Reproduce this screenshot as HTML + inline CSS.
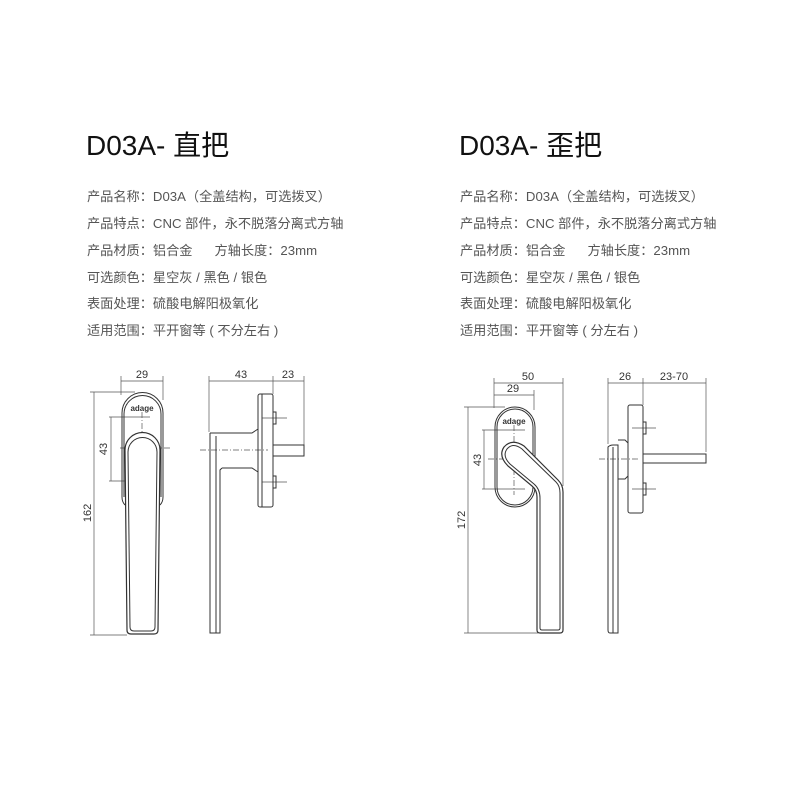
<!DOCTYPE html>
<html><head><meta charset="utf-8"><style>
body{margin:0;background:#fff;width:800px;height:800px;overflow:hidden;position:relative;font-family:"Liberation Sans","Noto Sans CJK SC",sans-serif}
.t{position:absolute;font-size:28px;color:#111;line-height:1}
.l{position:absolute;font-size:13.2px;color:#555;line-height:1;white-space:pre}
svg{position:absolute;left:0;top:0}
</style></head><body>
<div class="t" style="left:86px;top:132px">D03A- 直把</div>
<div class="t" style="left:459px;top:132px">D03A- 歪把</div>
<div class="l" style="left:87px;top:190px">产品名称：D03A（全盖结构，可选拨叉）</div>
<div class="l" style="left:87px;top:217px">产品特点：CNC 部件，永不脱落分离式方轴</div>
<div class="l" style="left:87px;top:244px">产品材质：铝合金      方轴长度：23mm</div>
<div class="l" style="left:87px;top:271px">可选颜色：星空灰 / 黑色 / 银色</div>
<div class="l" style="left:87px;top:297px">表面处理：硫酸电解阳极氧化</div>
<div class="l" style="left:87px;top:324px">适用范围：平开窗等 ( 不分左右 )</div>
<div class="l" style="left:460px;top:190px">产品名称：D03A（全盖结构，可选拨叉）</div>
<div class="l" style="left:460px;top:217px">产品特点：CNC 部件，永不脱落分离式方轴</div>
<div class="l" style="left:460px;top:244px">产品材质：铝合金      方轴长度：23mm</div>
<div class="l" style="left:460px;top:271px">可选颜色：星空灰 / 黑色 / 银色</div>
<div class="l" style="left:460px;top:297px">表面处理：硫酸电解阳极氧化</div>
<div class="l" style="left:460px;top:324px">适用范围：平开窗等 ( 分左右 )</div>
<svg width="800" height="800" font-family="Liberation Sans,sans-serif" font-size="11" fill="none" stroke="#333" stroke-width="1">
<!-- LEFT front -->
<g stroke-width="0.7" stroke="#555">
<line x1="121" y1="381" x2="163" y2="381"/><line x1="121" y1="376" x2="121" y2="395"/><line x1="163" y1="376" x2="163" y2="400"/>
<line x1="94" y1="392" x2="94" y2="635"/><line x1="90" y1="392" x2="135" y2="392"/><line x1="90" y1="635" x2="127" y2="635"/>
<line x1="111" y1="417" x2="111" y2="481"/><line x1="109" y1="417" x2="150" y2="417"/><line x1="109" y1="481" x2="150" y2="481"/>
<line x1="142" y1="412" x2="142" y2="486" stroke-dasharray="6,2,1,2"/><line x1="120" y1="448" x2="172" y2="448" stroke-dasharray="6,2,1,2"/>
</g>
<path d="M122 497 V413 A20.5 20.5 0 0 1 163 413 V497 Q163 502 160 505 M122 497 Q122 502 125 505"/>
<path d="M124 497 V414 A18.5 18.5 0 0 1 161 414 V497"/>
<path d="M125 450 A17.5 17.5 0 0 1 160 450 L158 630 Q158 634 154 634 H131 Q127 634 127 630 Z" stroke-width="1.2" fill="#fff"/>
<path d="M128 452 A14.5 14.5 0 0 1 157 452 L155 627 Q155 631 151 631 H134 Q130 631 130 627 Z"/>
<text x="142" y="411" font-size="8" font-weight="bold" fill="#333" stroke="none" text-anchor="middle">adage</text>
<g fill="#333" stroke="none">
<text x="142" y="378" text-anchor="middle">29</text>
<text transform="translate(107,449) rotate(-90)" text-anchor="middle">43</text>
<text transform="translate(91,513) rotate(-90)" text-anchor="middle">162</text>
</g>
<!-- LEFT side -->
<g stroke-width="0.7" stroke="#555">
<line x1="209" y1="381" x2="304" y2="381"/><line x1="209" y1="376" x2="209" y2="432"/><line x1="273" y1="376" x2="273" y2="394"/><line x1="304" y1="376" x2="304" y2="445"/>
<line x1="200" y1="450" x2="268" y2="450" stroke-dasharray="6,2,1,2"/>
<line x1="262" y1="418" x2="287" y2="418"/><line x1="262" y1="482" x2="287" y2="482"/>
</g>
<rect x="258" y="394" width="15" height="113" rx="2"/>
<line x1="262" y1="394" x2="262" y2="507"/>
<rect x="273" y="445" width="31" height="11"/>
<rect x="273" y="412" width="3" height="12"/><rect x="273" y="476" width="3" height="12"/>
<path d="M210 433 H252 L258 429 M222 468 H252 L258 472 M210 433 V633 H220 V470 L222 468"/>
<line x1="216" y1="436" x2="216" y2="633"/>
<g fill="#333" stroke="none"><text x="241" y="378" text-anchor="middle">43</text><text x="288" y="378" text-anchor="middle">23</text></g>
<!-- RIGHT front -->
<g stroke-width="0.7" stroke="#555">
<line x1="494" y1="383" x2="563" y2="383"/><line x1="494" y1="395" x2="534" y2="395"/>
<line x1="494" y1="378" x2="494" y2="408"/><line x1="534" y1="390" x2="534" y2="410"/><line x1="563" y1="378" x2="563" y2="486"/>
<line x1="468" y1="407" x2="468" y2="633"/><line x1="464" y1="407" x2="505" y2="407"/><line x1="464" y1="633" x2="538" y2="633"/>
<line x1="484" y1="430" x2="484" y2="489"/><line x1="482" y1="430" x2="525" y2="430"/><line x1="482" y1="489" x2="525" y2="489"/>
<line x1="514" y1="425" x2="514" y2="495" stroke-dasharray="6,2,1,2"/><line x1="488" y1="459" x2="540" y2="459" stroke-dasharray="6,2,1,2"/>
</g>
<path d="M495 427 A20 20 0 0 1 535 427 V487 A20 20 0 0 1 495 487 Z"/>
<path d="M497 427 A18 18 0 0 1 533 427 V487 A18 18 0 0 1 497 487 Z"/>
<path d="M537 497 Q537 490 532 486 L508 466 Q498 456 504 447 Q512 438 524 446 L558 480 Q563 485 563 492 V630 Q563 633 560 633 H540 Q537 633 537 630 Z" stroke-width="1.2" fill="#fff"/>
<path d="M540 498 Q540 489 534 484 L510 464 Q502 456 507 449 Q513 442 522 449 L556 482 Q560 486 560 493 V628 Q560 630 558 630 H542 Q540 630 540 628 Z"/>
<text x="514" y="424" font-size="8" font-weight="bold" fill="#333" stroke="none" text-anchor="middle">adage</text>
<g fill="#333" stroke="none">
<text x="528" y="380" text-anchor="middle">50</text><text x="513" y="392" text-anchor="middle">29</text>
<text transform="translate(481,460) rotate(-90)" text-anchor="middle">43</text>
<text transform="translate(465,520) rotate(-90)" text-anchor="middle">172</text>
</g>
<!-- RIGHT side -->
<g stroke-width="0.7" stroke="#555">
<line x1="608" y1="383" x2="706" y2="383"/><line x1="608" y1="378" x2="608" y2="444"/><line x1="643" y1="378" x2="643" y2="405"/><line x1="706" y1="378" x2="706" y2="452"/>
<line x1="599" y1="459" x2="640" y2="459" stroke-dasharray="6,2,1,2"/>
<line x1="632" y1="428" x2="656" y2="428"/><line x1="632" y1="489" x2="656" y2="489"/>
</g>
<rect x="628" y="405" width="15" height="108" rx="2"/>
<rect x="643" y="454" width="63" height="9"/>
<rect x="643" y="422" width="3" height="12"/><rect x="643" y="483" width="3" height="12"/>
<path d="M618 440 H625 L628 443 V476 L625 479 H618"/>
<path d="M608 447 Q610 445 613 445 H618 V633 H610 Q608 633 608 630 Z"/>
<line x1="613" y1="447" x2="613" y2="633"/>
<g fill="#333" stroke="none"><text x="625" y="380" text-anchor="middle">26</text><text x="674" y="380" text-anchor="middle">23-70</text></g>
</svg>
</body></html>
